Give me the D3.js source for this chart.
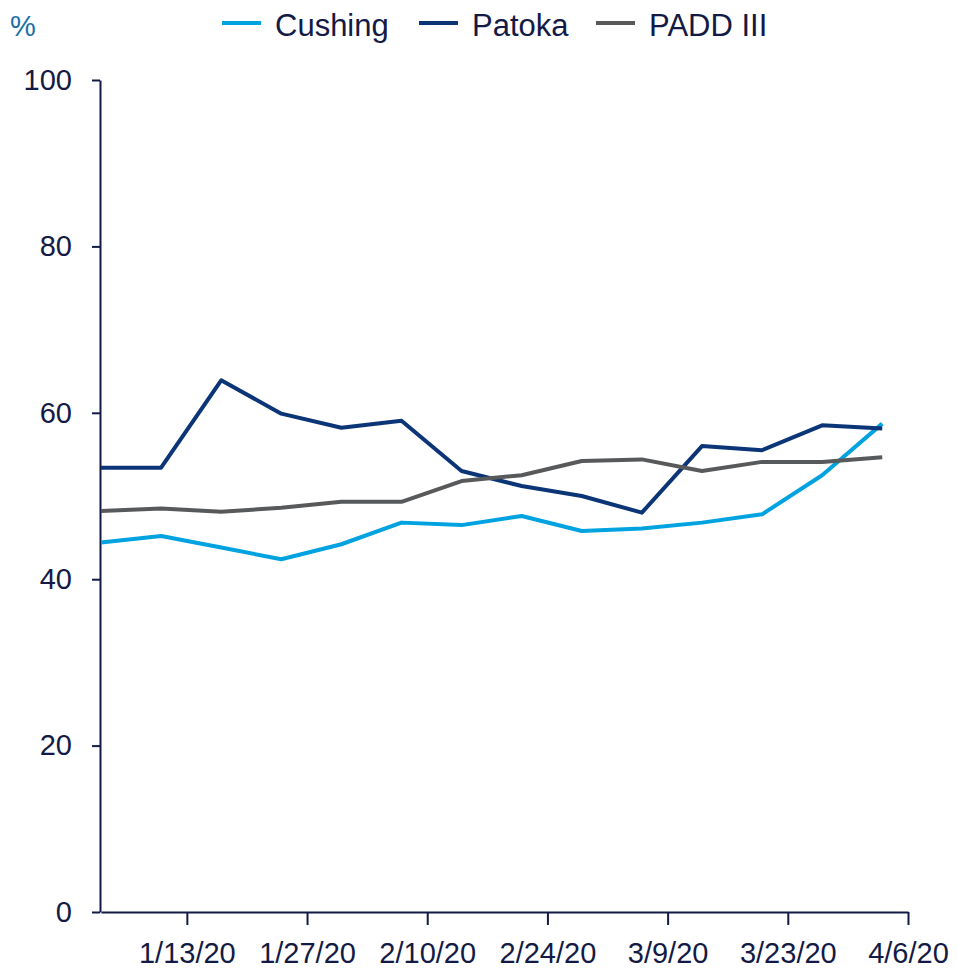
<!DOCTYPE html>
<html>
<head>
<meta charset="utf-8">
<script src="https://cdn.jsdelivr.net/npm/d3@7"></script>
<style>
  body { margin: 0; background: #fff; }
  svg text { font-family: "Liberation Sans", Arial, sans-serif; fill: #131a45; }
</style>
</head>
<body>
<svg width="957" height="969"></svg>
<script>
// weekly dates (Fridays)
var dates = ["2020-01-03","2020-01-10","2020-01-17","2020-01-24","2020-01-31","2020-02-07","2020-02-14",
             "2020-02-21","2020-02-28","2020-03-06","2020-03-13","2020-03-20","2020-03-27","2020-04-03"];
var cushing = [44.4, 45.2, 43.8, 42.4, 44.2, 46.8, 46.5, 47.6, 45.8, 46.1, 46.8, 47.8, 52.5, 58.7];
var patoka  = [53.4, 53.4, 63.9, 59.9, 58.2, 59.05, 53.0, 51.2, 50.0, 48.0, 56.0, 55.5, 58.5, 58.1];
var padd3   = [48.2, 48.5, 48.1, 48.6, 49.3, 49.3, 51.8, 52.5, 54.2, 54.4, 53.0, 54.1, 54.1, 54.65];
var tickDates = ["2020-01-13","2020-01-27","2020-02-10","2020-02-24","2020-03-09","2020-03-23","2020-04-06"];
var yTicks = [0, 20, 40, 60, 80, 100];

var parse = d3.timeParse("%Y-%m-%d");
var series = [
  { name: "Cushing", color: "#00a3e0", values: cushing },
  { name: "Patoka", color: "#0b3576", values: patoka },
  { name: "PADD III", color: "#58595b", values: padd3 }
];

var svg = d3.select("svg");
var axisColor = "#131a45";

var x = d3.scaleTime()
  .domain([parse("2020-01-03"), parse("2020-04-06")])
  .range([101, 908]);
var y = d3.scaleLinear().domain([0, 100]).range([912, 80]);

// y axis
var yAxis = svg.append("g")
  .attr("transform", "translate(100,0)")
  .call(d3.axisLeft(y).tickValues(yTicks).tickSize(8).tickSizeOuter(0).tickPadding(20));
yAxis.selectAll("text").style("font-size", "29px");

// x axis
var xAxis = svg.append("g")
  .attr("transform", "translate(0,912)")
  .call(d3.axisBottom(x).tickValues(tickDates.map(parse)).tickSize(13).tickSizeOuter(0)
    .tickPadding(17).tickFormat(d3.timeFormat("%-m/%-d/%y")));
xAxis.selectAll("text").style("font-size", "29px");

svg.selectAll(".domain, .tick line")
  .attr("stroke", axisColor)
  .attr("stroke-width", 2);
svg.selectAll(".tick text").attr("fill", axisColor);

// lines
var line = d3.line()
  .x(function(d, i) { return x(parse(dates[i])); })
  .y(function(d) { return y(d); });

series.forEach(function(s) {
  svg.append("path")
    .datum(s.values)
    .attr("fill", "none")
    .attr("stroke", s.color)
    .attr("stroke-width", 4)
    .attr("stroke-linejoin", "round")
    .attr("d", line);
});

// unit label
svg.append("text")
  .attr("x", 10)
  .attr("y", 36)
  .style("font-size", "29px")
  .style("fill", "#1a6fa8")
  .text("%");

// legend
var legendX = [222, 419, 596];
var legend = svg.append("g");
series.forEach(function(s, i) {
  legend.append("line")
    .attr("x1", legendX[i]).attr("x2", legendX[i] + 39)
    .attr("y1", 23).attr("y2", 23)
    .attr("stroke", s.color)
    .attr("stroke-width", 4);
  legend.append("text")
    .attr("x", legendX[i] + 53)
    .attr("y", 36)
    .style("font-size", "31px")
    .text(s.name);
});
</script>
</body>
</html>
